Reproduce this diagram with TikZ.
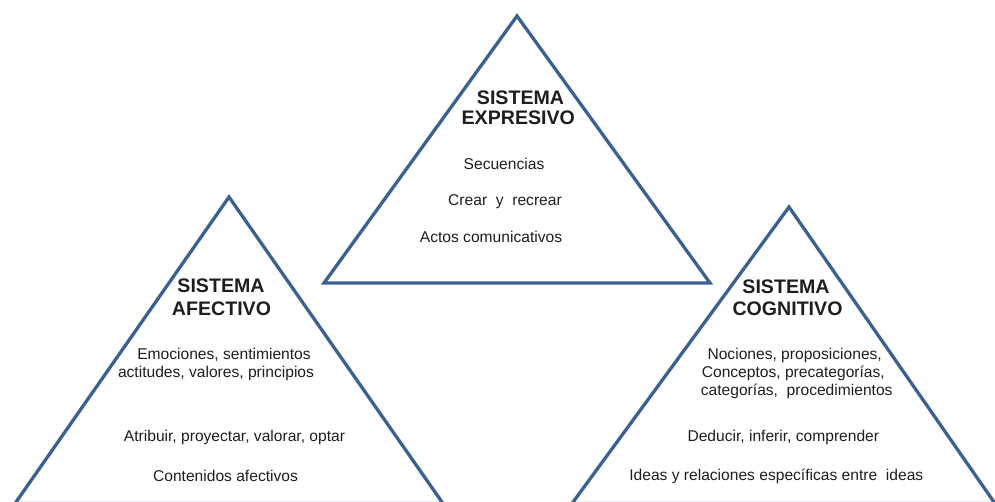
\documentclass[tikz,border=0pt]{standalone}
\usepackage{fontspec}
\setmainfont{Liberation Sans}
\definecolor{edgeblue}{RGB}{60,97,145}
\definecolor{txt}{RGB}{30,30,30}
\begin{document}
\begin{tikzpicture}[x=1pt,y=-1pt,
  tri/.style={draw=edgeblue,line width=3.3pt,line join=miter},
  ttl/.style={font=\fontsize{19.6}{22}\selectfont\bfseries,text=txt,inner sep=0pt},
  lbl/.style={font=\fontsize{15.6}{18}\selectfont,text=txt,inner sep=0pt}]
\useasboundingbox (0,0) rectangle (995,502);
% triangles
\draw[tri] (229,197) -- (443,503.5) -- (15,503.5) -- cycle;
\draw[tri] (517,16) -- (710,283) -- (324,283) -- cycle;
\draw[tri] (789,207) -- (995,503.5) -- (572,503.5) -- cycle;
% left: afectivo
\node[ttl] (a1) at (221,286) {SISTEMA};
\node[ttl] (a2) at (221.5,308.3) {AFECTIVO};
\node[lbl] (a3) at (224,355) {Emociones, sentimientos};
\node[lbl] (a4) at (216,373.3) {actitudes, valores, principios};
\node[lbl] (a5) at (234.5,437.3) {Atribuir, proyectar, valorar, optar};
\node[lbl] (a6) at (225.5,476) {Contenidos afectivos};
% middle: expresivo
\node[ttl] (e1) at (520.5,97.3) {SISTEMA};
\node[ttl] (e2) at (518.3,117.3) {EXPRESIVO};
\node[lbl] (e3) at (504,164.3) {Secuencias};
\node[lbl] (e4) at (505,201.7) {Crear\ \ y\ \ recrear};
\node[lbl] (e5) at (491,237.3) {Actos comunicativos};
% right: cognitivo
\node[ttl] (c1) at (786,286.7) {SISTEMA};
\node[ttl] (c2) at (787.5,309) {COGNITIVO};
\node[lbl] (c3) at (794.7,355) {Nociones, proposiciones,};
\node[lbl] (c4) at (793.3,373.3) {Conceptos, precategorías,};
\node[lbl] (c5) at (796.7,391.7) {categorías,\ \ procedimientos};
\node[lbl] (c6) at (783.3,437.3) {Deducir, inferir, comprender};
\node[lbl] (c7) at (776.3,476) {Ideas y relaciones específicas entre\ \ ideas};
\end{tikzpicture}
\end{document}
